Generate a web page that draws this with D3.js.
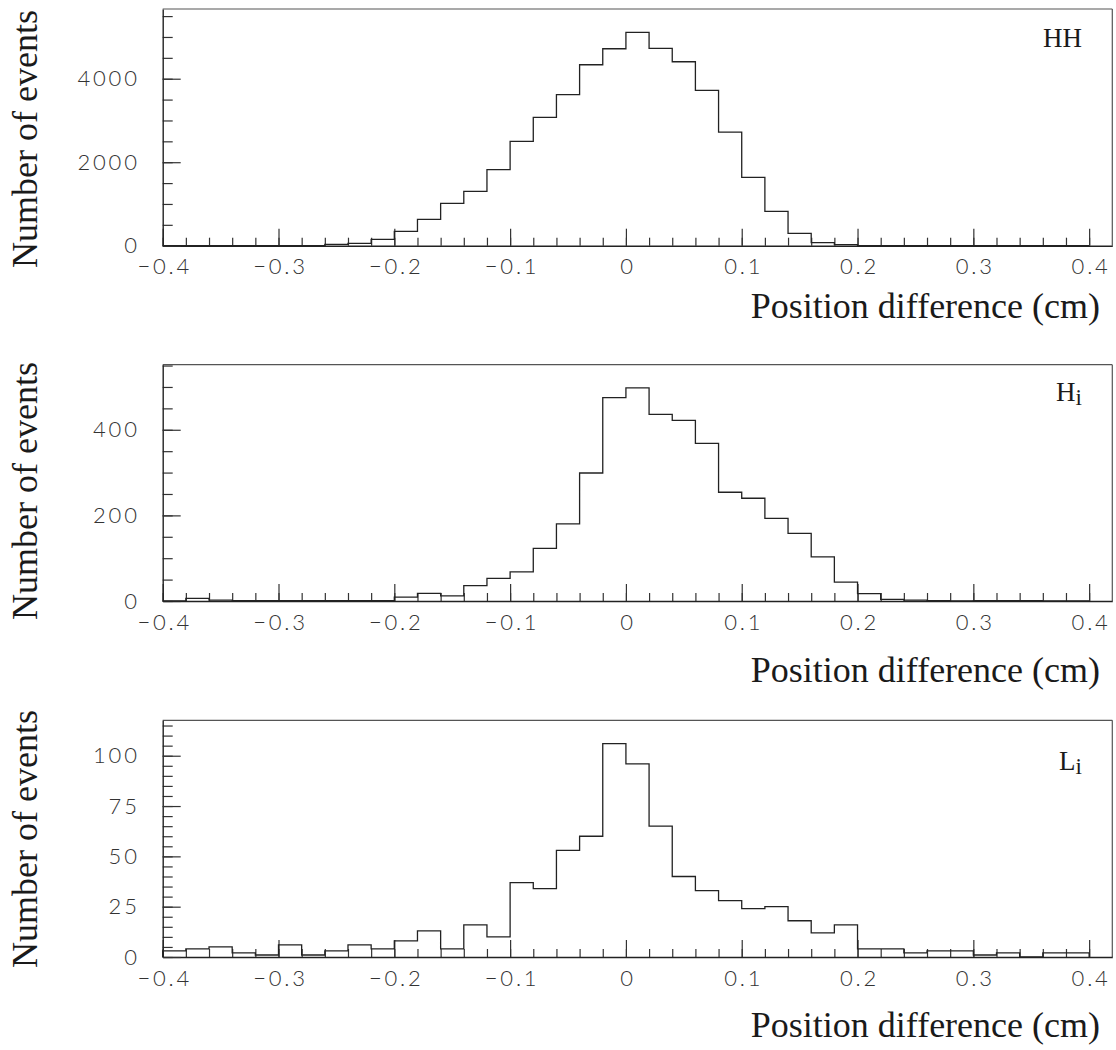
<!DOCTYPE html>
<html>
<head>
<meta charset="utf-8">
<script src="https://cdn.jsdelivr.net/npm/d3@7"></script>
<style>
  html, body { margin: 0; padding: 0; background: #fff; }
  svg { display: block; }
  .tick text { font-family: "Lato", "Open Sans", "DejaVu Sans", sans-serif; font-weight: 300; font-size: 22px; letter-spacing: 2.8px; fill: #333; }
  .title { font-family: "Liberation Serif", "Times New Roman", serif; fill: #1a1a1a; }
</style>
</head>
<body>
<svg id="chart" width="1116" height="1050"></svg>
<script>
// ---- data (40 bins of width 0.02 from -0.4 to 0.4) ----
const binStart = -0.4;
const binWidth = 0.02;
const panelNames = ["HH", "H", "L"];
const panelSubs = ["", "i", "i"];
const hhCounts = [0,0,0,0,0,0,0,32,56,152,343,631,1014,1301,1820,2499,3074,3617,4335,4718,
                  5110,4727,4407,3720,2723,1637,822,295,72,24,0,0,0,0,0,0,0,0,0,0];
const hiCounts = [0,6,2,1,1,1,1,1,1,1,9,18,12,36,53,68,123,180,299,475,
                  498,436,422,368,254,240,193,158,103,44,17,4,2,1,0,1,1,1,0,0];
const liCounts = [3,4,5,2,1,6,1,3,6,4,8,13,4,16,10,37,34,53,60,106,
                  96,65,40,33,28,24,25,18,12,16,4,4,2,3,3,1,2,0,2,2];
const yMaxes = [5670, 552, 117.6];
const yMajorTicks = [[0, 2000, 4000], [0, 200, 400], [0, 25, 50, 75, 100]];
const yMinorSteps = [500, 50, 5];
const xMajorTicks = [-0.4, -0.3, -0.2, -0.1, 0, 0.1, 0.2, 0.3, 0.4];
const xDomain = [-0.4, 0.42];
const xTitle = "Position difference (cm)";
const yTitle = "Number of events";

// ---- layout ----
const svg = d3.select("#chart");
const left = 162.7, right = 1112.3;
const panels = [
  { top: 9,     bottom: 245.7, labelY: 47,  xTitleY: 318,  yTitleTop: 10 },
  { top: 364.7, bottom: 601,   labelY: 401, xTitleY: 682,  yTitleTop: 362 },
  { top: 720.3, bottom: 957,   labelY: 770, xTitleY: 1037, yTitleTop: 710 }
];
const allCounts = [hhCounts, hiCounts, liCounts];

const x = d3.scaleLinear().domain(xDomain).range([left, right]);
const fmtX = d => d === 0 ? "0" : (d < 0 ? "\u2212" : "") + Math.abs(d).toFixed(1);
const xMinor = d3.range(0, 41).map(i => +(-0.4 + i * 0.02).toFixed(2));

panels.forEach((p, k) => {
  const counts = allCounts[k];
  const y = d3.scaleLinear().domain([0, yMaxes[k]]).range([p.bottom, p.top]);
  const g = svg.append("g");

  // frame top & right
  g.append("line").attr("x1", left).attr("x2", right).attr("y1", p.top).attr("y2", p.top)
    .attr("stroke", "#555").attr("stroke-width", 1.2);
  g.append("line").attr("x1", right).attr("x2", right).attr("y1", p.top).attr("y2", p.bottom)
    .attr("stroke", "#555").attr("stroke-width", 1.2);

  // x minor ticks
  g.append("g").attr("transform", `translate(0,${p.bottom})`)
    .call(d3.axisBottom(x).tickValues(xMinor).tickSize(-8).tickSizeOuter(0).tickFormat(""))
    .call(s => s.select(".domain").remove())
    .call(s => s.selectAll("line").attr("stroke", "#333").attr("stroke-width", 1.2));
  // x major ticks + labels
  g.append("g").attr("transform", `translate(0,${p.bottom})`)
    .call(d3.axisBottom(x).tickValues(xMajorTicks).tickSize(-17).tickSizeOuter(0).tickFormat(fmtX))
    .call(s => s.select(".domain").attr("stroke", "#222").attr("stroke-width", 1.4))
    .call(s => s.selectAll("line").attr("stroke", "#333").attr("stroke-width", 1.2))
    .call(s => s.selectAll("text").attr("y", 21).attr("dy", "0.35em").attr("dx", 1.5));

  // y minor ticks
  const yMinor = d3.range(0, yMaxes[k] + 1e-9, yMinorSteps[k]);
  g.append("g").attr("transform", `translate(${left},0)`)
    .call(d3.axisLeft(y).tickValues(yMinor).tickSize(-10).tickSizeOuter(0).tickFormat(""))
    .call(s => s.select(".domain").remove())
    .call(s => s.selectAll("line").attr("stroke", "#333").attr("stroke-width", 1.2));
  // y major ticks + labels
  g.append("g").attr("transform", `translate(${left},0)`)
    .call(d3.axisLeft(y).tickValues(yMajorTicks[k]).tickSize(-18).tickSizeOuter(0).tickPadding(23).tickFormat(d3.format("d")))
    .call(s => s.select(".domain").attr("stroke", "#222").attr("stroke-width", 1.4))
    .call(s => s.selectAll("line").attr("stroke", "#333").attr("stroke-width", 1.2));

  // histogram outline
  const pts = [[x(binStart), y(0)]];
  counts.forEach((c, i) => {
    const lo = binStart + i * binWidth, hi = lo + binWidth;
    pts.push([x(lo), y(c)], [x(hi), y(c)]);
  });
  pts.push([x(binStart + counts.length * binWidth), y(0)]);
  g.append("path").attr("d", d3.line()(pts))
    .attr("fill", "none").attr("stroke", "#222").attr("stroke-width", 1.3);

  // panel label
  const lab = g.append("text").attr("class", "title")
    .attr("x", 1082).attr("y", p.labelY).attr("text-anchor", "end")
    .style("font-size", "27px");
  lab.append("tspan").text(panelNames[k]);
  if (panelSubs[k]) lab.append("tspan").attr("dy", 4).style("font-size", "23px").text(panelSubs[k]);

  // axis titles
  g.append("text").attr("class", "title")
    .attr("x", 1100).attr("y", p.xTitleY).attr("text-anchor", "end")
    .style("font-size", "36px").text(xTitle);
  g.append("text").attr("class", "title")
    .attr("transform", `translate(37,${p.yTitleTop}) rotate(-90)`)
    .attr("text-anchor", "end")
    .style("font-size", "36px").text(yTitle);
});
</script>
</body>
</html>
